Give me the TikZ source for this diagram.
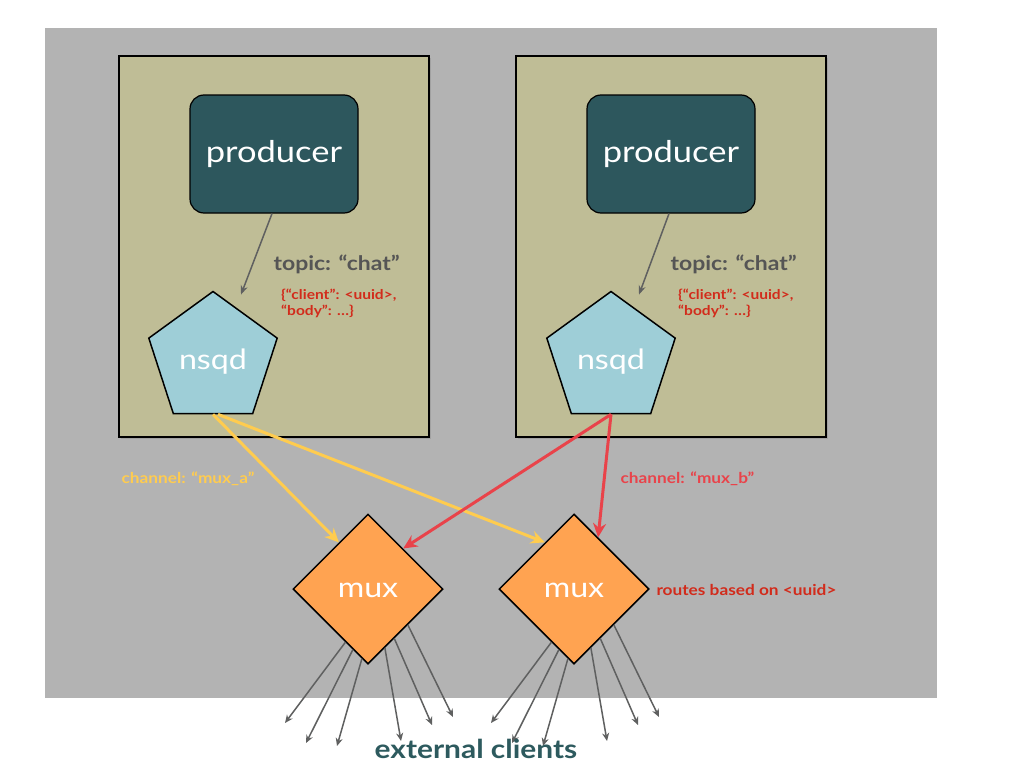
\documentclass[tikz,border=0pt]{standalone}
\usepackage{fontspec}
\setmainfont{Lato}
\newfontfamily\labelfont[FakeStretch=1.15]{Lato}
\usetikzlibrary{shapes.geometric,arrows.meta,shadows,calc}

\definecolor{bggray}{RGB}{179,179,179}
\definecolor{hosttan}{RGB}{191,189,150}
\definecolor{prodteal}{RGB}{45,87,93}
\definecolor{nsqblue}{RGB}{158,206,215}
\definecolor{muxorange}{RGB}{255,163,81}
\definecolor{chanyellow}{RGB}{255,204,79}
\definecolor{chanred}{RGB}{233,67,74}
\definecolor{msgred}{RGB}{210,43,27}
\definecolor{arrowgray}{RGB}{95,96,96}
\definecolor{topicgray}{RGB}{85,85,85}
\definecolor{clientteal}{RGB}{45,90,94}

\begin{document}
\begin{tikzpicture}[
  x=1pt, y=-1pt,
  host/.style={draw=black, line width=2.2pt, fill=hosttan,
    minimum width=310pt, minimum height=381pt,
    drop shadow={shadow xshift=2pt, shadow yshift=-2pt, opacity=0.35}},
  producer/.style={draw=black, line width=1.2pt, fill=prodteal,
    rounded corners=14pt, minimum width=168pt, minimum height=118pt,
    text height=17pt, text depth=0pt,
    text=white, font=\labelfont\fontsize{30}{36}\selectfont},
  nsqd/.style={regular polygon, regular polygon sides=5, minimum size=135pt,
    inner sep=0pt, draw=black, line width=1.5pt, fill=nsqblue,
    text height=20pt, text depth=0pt,
    text=white, font=\labelfont\fontsize{28}{34}\selectfont},
  mux/.style={diamond, minimum width=150pt, minimum height=150pt,
    inner sep=0pt, draw=black, line width=1.5pt, fill=muxorange,
    text height=16pt, text depth=0pt,
    text=white, font=\labelfont\fontsize{28}{34}\selectfont},
  topic/.style={anchor=west, text=topicgray, font=\labelfont\bfseries\fontsize{20}{24}\selectfont},
  msg/.style={anchor=north west, align=left, inner sep=0pt, text=msgred,
    font=\labelfont\bfseries\fontsize{13.5}{16}\selectfont},
  chan/.style={anchor=west, font=\labelfont\bfseries\fontsize{15}{18}\selectfont},
  publish/.style={->, arrowgray, line width=1.5pt, >={Stealth[length=9pt,width=7pt]}},
  feed/.style={->, line width=3pt, >={Stealth[length=14pt,width=13pt]}},
  client/.style={->, arrowgray, line width=1.5pt, >={Stealth[length=8pt,width=7pt]}}
]
  \useasboundingbox[fill=white] (0,0) rectangle (1024,768);
  \fill[bggray] (45,28) rectangle (937,698);

  % two hosts
  \node[host] (hostA) at (274,246.5) {};
  \node[host] (hostB) at (671,246.5) {};

  \node[producer] (prodA) at (274,154) {producer};
  \node[producer] (prodB) at (671,154) {producer};

  \node[nsqd] (nsqdA) at (213,359) {nsqd};
  \node[nsqd] (nsqdB) at (611,359) {nsqd};

  \node[mux] (muxA) at (368,589) {mux};
  \node[mux] (muxB) at (574,589) {mux};

  % publishing
  \draw[publish] ([xshift=-2pt]prodA.south) -- ([xshift=28pt,yshift=-4pt]nsqdA.north);
  \draw[publish] ([xshift=-2pt]prodB.south) -- ([xshift=28pt,yshift=-4pt]nsqdB.north);

  \node[topic] (topicA) at (270,264) {topic: “chat”};
  \node[topic] (topicB) at (667,264) {topic: “chat”};
  \node[msg] (msgA) at (281,289) {\{“client”: <uuid>,\\“body”: …\}};
  \node[msg] (msgB) at (678,289) {\{“client”: <uuid>,\\“body”: …\}};

  % channels
  \draw[feed, chanyellow] (nsqdA.south) -- (muxA.122);
  \draw[feed, chanyellow] ([xshift=5pt]nsqdA.south) -- (muxB.122);
  \draw[feed, chanred] (nsqdB.south) -- (muxA.49);
  \draw[feed, chanred] (nsqdB.south) -- (muxB.65);

  \node[chan, text=chanyellow] (chanA) at (118,479) {channel: “mux\_a”};
  \node[chan, text=chanred] (chanB) at (617,479) {channel: “mux\_b”};
  \node[chan, text=msgred] (routes) at (653,590) {routes based on <uuid>};

  % fan out to clients
  \foreach \m in {muxA,muxB}
    \foreach \a/\dx/\dy [count=\i] in {-113/-83/134, -104/-62/154, -95/-31/157,
        -74/33/152, -62/64/136, -42/85/128} {
      \coordinate (\m-c\i) at ($(\m)+(\dx,\dy)$);
      \draw[client] (\m.\a) -- (\m-c\i);
    }

  \node[text=clientteal, font=\labelfont\bfseries\fontsize{26}{30}\selectfont] (clients) at (476,749) {external clients};
\end{tikzpicture}
\end{document}
